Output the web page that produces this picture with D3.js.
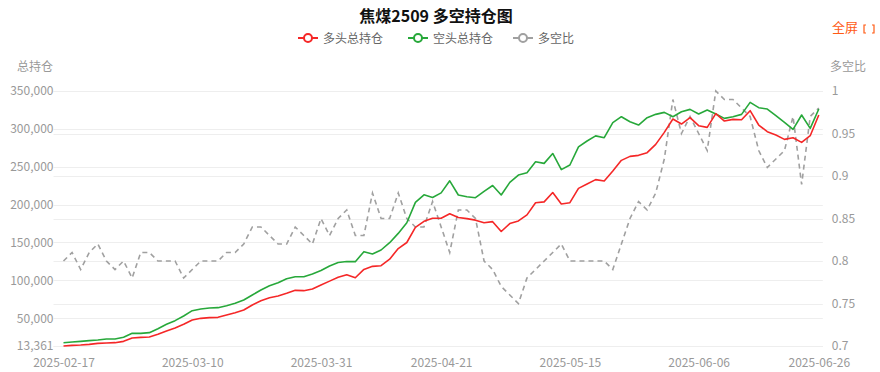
<!DOCTYPE html>
<html><head><meta charset="utf-8">
<script src="https://cdn.jsdelivr.net/npm/d3@7"></script>
<style>
html,body{margin:0;padding:0;background:#fff;}
svg{display:block;font-family:"Microsoft YaHei","Noto Sans CJK SC","Noto Sans",sans-serif;}
</style></head>
<body><svg id="c" width="880" height="372"></svg>
<script>
const dates = ["2025-02-17","2025-02-18","2025-02-19","2025-02-20","2025-02-21","2025-02-24","2025-02-25","2025-02-26","2025-02-27","2025-02-28",
"2025-03-03","2025-03-04","2025-03-05","2025-03-06","2025-03-07","2025-03-10","2025-03-11","2025-03-12","2025-03-13","2025-03-14",
"2025-03-17","2025-03-18","2025-03-19","2025-03-20","2025-03-21","2025-03-24","2025-03-25","2025-03-26","2025-03-27","2025-03-28",
"2025-03-31","2025-04-01","2025-04-02","2025-04-03","2025-04-07","2025-04-08","2025-04-09","2025-04-10","2025-04-11","2025-04-14",
"2025-04-15","2025-04-16","2025-04-17","2025-04-18","2025-04-21","2025-04-22","2025-04-23","2025-04-24","2025-04-25","2025-04-28",
"2025-04-29","2025-04-30","2025-05-06","2025-05-07","2025-05-08","2025-05-09","2025-05-12","2025-05-13","2025-05-14","2025-05-15",
"2025-05-16","2025-05-19","2025-05-20","2025-05-21","2025-05-22","2025-05-23","2025-05-26","2025-05-27","2025-05-28","2025-05-29",
"2025-05-30","2025-06-03","2025-06-04","2025-06-05","2025-06-06","2025-06-09","2025-06-10","2025-06-11","2025-06-12","2025-06-13",
"2025-06-16","2025-06-17","2025-06-18","2025-06-19","2025-06-20","2025-06-23","2025-06-24","2025-06-25","2025-06-26"];

const longTotal = [13361,14240,14680,15560,16880,17320,17760,19520,23920,24800,
25240,28760,33160,37120,41960,47680,49880,50760,51200,54280,
57360,60880,67480,73200,77160,79360,82880,86840,86400,88500,
94000,99000,104000,107500,103500,114500,118500,119400,128000,142000,
150000,170000,178000,182000,182000,188000,183000,181500,179500,176000,
177500,164500,175000,178500,186500,202500,203600,216000,200800,202560,
221480,227200,233000,231160,244360,258440,263720,265040,268560,279560,
295400,313000,306400,314760,304200,302000,320040,310360,312560,312120,
324000,305080,296280,291880,286160,288360,282200,291000,318280];

const shortTotal = [17700,18640,19520,20400,21280,22600,22600,24800,30080,30080,
30960,36240,41960,46800,52960,60000,62200,63520,63960,66600,
69680,74080,80680,87280,93000,96960,102240,104880,104880,108500,
113000,119000,123500,125000,124700,137900,134800,140080,149760,162000,
176000,203000,213000,209400,215500,231400,212680,210500,209160,217500,
225200,212680,229400,239070,242000,256500,254480,267500,246200,252280,
276300,284000,290800,288360,308160,316080,309480,305080,314760,319160,
321800,316080,322680,325760,319600,324880,319600,313880,316080,319160,
335000,327960,326200,317400,308600,299360,318280,300680,326200];

const ratio = [0.80,0.81,0.79,0.81,0.82,0.80,0.79,0.80,0.78,0.81,
0.81,0.80,0.80,0.80,0.78,0.79,0.80,0.80,0.80,0.81,
0.81,0.82,0.84,0.84,0.83,0.82,0.82,0.84,0.83,0.82,
0.85,0.83,0.85,0.86,0.83,0.83,0.88,0.85,0.85,0.88,
0.85,0.84,0.84,0.87,0.84,0.81,0.86,0.86,0.85,0.80,
0.79,0.77,0.76,0.75,0.78,0.79,0.80,0.81,0.82,0.80,
0.80,0.80,0.80,0.80,0.79,0.82,0.85,0.87,0.86,0.88,
0.92,0.99,0.95,0.97,0.95,0.93,1.00,0.99,0.99,0.98,
0.97,0.93,0.91,0.92,0.93,0.97,0.89,0.97,0.98];

const leftTicks = [13361,50000,100000,150000,200000,250000,300000,350000];
const rightTicks = [0.7,0.75,0.8,0.85,0.9,0.95,1];
const xTickLabels = ["2025-02-17","2025-03-10","2025-03-31","2025-04-21","2025-05-15","2025-06-06","2025-06-26"];
const seriesNames = ["多头总持仓","空头总持仓","多空比"];
const colors = ["#f52727","#27a83a","#a0a0a0"];
const title = "焦煤2509 多空持仓图";

const svg = d3.select("#c");
const L = 63.5, R = 818.8, T = 91, B = 346;

const x = d3.scalePoint().domain(dates).range([L, R]);
const yL = d3.scaleLinear().domain([13361, 350000]).range([B, T]);
const yR = d3.scaleLinear().domain([0.7, 1]).range([B, T]);

// grid lines
const grid = svg.append("g");
grid.selectAll("line.gl").data(leftTicks).join("line")
  .attr("x1", L - 10).attr("x2", R + 4)
  .attr("y1", d => Math.round(yL(d)) + 0.5).attr("y2", d => Math.round(yL(d)) + 0.5)
  .attr("stroke", "#eeeeee").attr("stroke-width", 1);
grid.selectAll("line.gr").data(rightTicks).join("line")
  .attr("x1", L - 10).attr("x2", R + 4)
  .attr("y1", d => Math.round(yR(d)) + 0.5).attr("y2", d => Math.round(yR(d)) + 0.5)
  .attr("stroke", "#eeeeee").attr("stroke-width", 1);

// axes
const fmt = d3.format(",");
const axL = d3.axisLeft(yL).tickValues(leftTicks).tickFormat(fmt).tickSize(0).tickPadding(10);
const gL = svg.append("g").attr("transform", `translate(${L},0)`).call(axL);
const axR = d3.axisRight(yR).tickValues(rightTicks).tickFormat(d => String(+d.toFixed(2))).tickSize(0).tickPadding(13);
const gR = svg.append("g").attr("transform", `translate(${R},0)`).call(axR);
const axB = d3.axisBottom(x).tickValues(xTickLabels).tickSize(0).tickPadding(12);
const gB = svg.append("g").attr("transform", `translate(0,${B})`).call(axB);
[gL, gR, gB].forEach(g => {
  g.select(".domain").remove();
  g.selectAll("text").attr("fill", "#999").style("font-size", "12px")
    .style("font-family", "'Microsoft YaHei','Noto Sans CJK SC','Noto Sans',sans-serif");
});

// axis names
svg.append("text").attr("x", 35).attr("y", 71).attr("text-anchor", "middle")
  .attr("fill", "#999").style("font-size", "12px").text("总持仓");
svg.append("text").attr("x", 848).attr("y", 71).attr("text-anchor", "middle")
  .attr("fill", "#999").style("font-size", "12px").text("多空比");

// lines
const lineL = d3.line().x((d, i) => x(dates[i])).y(d => yL(d));
const lineR = d3.line().x((d, i) => x(dates[i])).y(d => yR(d));
svg.append("path").datum(ratio).attr("d", lineR).attr("fill", "none")
  .attr("stroke", colors[2]).attr("stroke-width", 1.6).attr("stroke-dasharray", "5,4");
svg.append("path").datum(shortTotal).attr("d", lineL).attr("fill", "none")
  .attr("stroke", colors[1]).attr("stroke-width", 1.6).attr("stroke-linejoin", "round");
svg.append("path").datum(longTotal).attr("d", lineL).attr("fill", "none")
  .attr("stroke", colors[0]).attr("stroke-width", 1.6).attr("stroke-linejoin", "round");

// title
svg.append("text").attr("x", 436).attr("y", 22).attr("text-anchor", "middle")
  .attr("fill", "#111").style("font-size", "16px").style("font-weight", "bold").text(title);

// full-screen
svg.append("text").attr("x", 832).attr("y", 32).attr("fill", "#ff5b14")
  .style("font-size", "13px").text("全屏");
svg.append("path").attr("d", "M866,25 h-2 v8 h2 M872,25 h2 v8 h-2").attr("fill", "none")
  .attr("stroke", "#ff5b14").attr("stroke-width", 1.2);

// legend
const legX = [298, 408, 513];
const lg = svg.append("g");
seriesNames.forEach((n, i) => {
  const g = lg.append("g").attr("transform", `translate(${legX[i]},38)`);
  g.append("line").attr("x1", 0).attr("x2", 20).attr("y1", 0).attr("y2", 0)
    .attr("stroke", colors[i]).attr("stroke-width", 2);
  g.append("circle").attr("cx", 10).attr("cy", 0).attr("r", 4)
    .attr("fill", "#fff").attr("stroke", colors[i]).attr("stroke-width", 2);
  g.append("text").attr("x", 25).attr("y", 4.5).attr("fill", "#666")
    .style("font-size", "12px").text(n);
});
</script></body></html>
